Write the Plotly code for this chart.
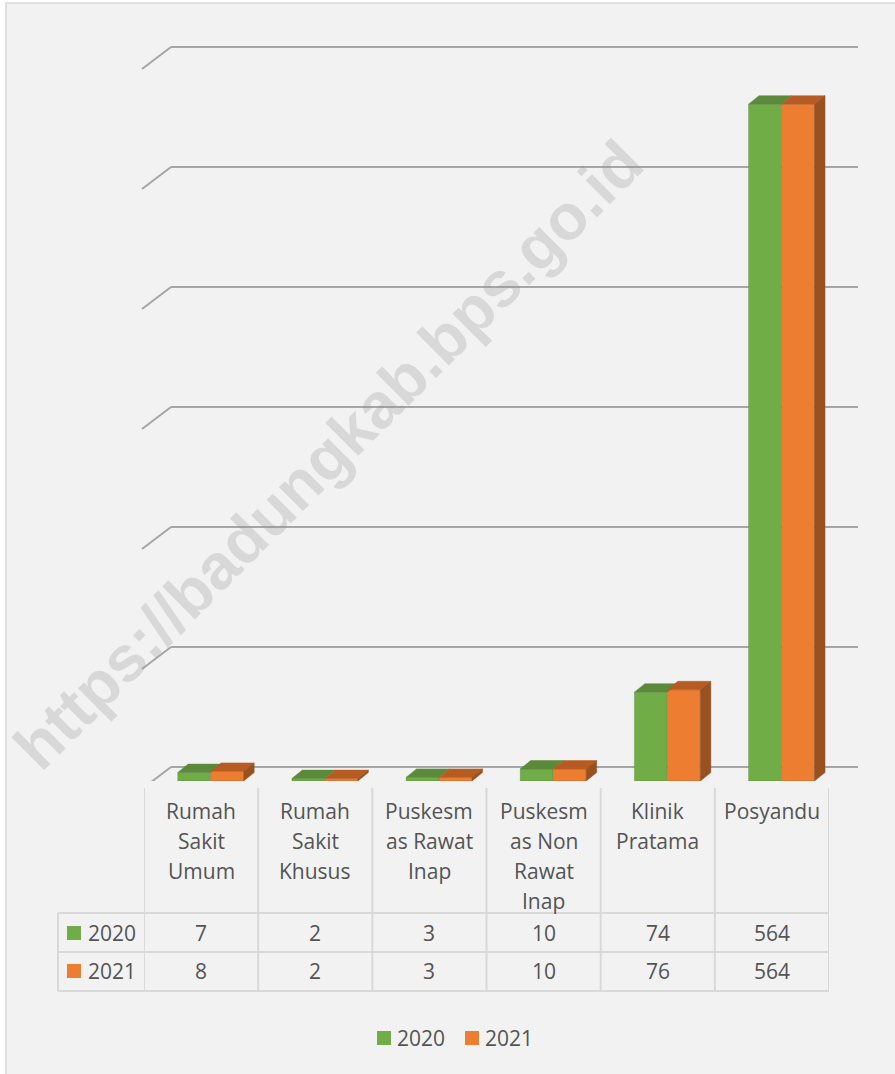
import plotly.graph_objects as go

# ---------------- data ----------------
categories = ["Rumah<br>Sakit<br>Umum", "Rumah<br>Sakit<br>Khusus", "Puskesm<br>as Rawat<br>Inap",
              "Puskesm<br>as Non<br>Rawat<br>Inap", "Klinik<br>Pratama", "Posyandu"]
years = ["2020", "2021"]
values_2020 = [7, 2, 3, 10, 74, 564]
values_2021 = [8, 2, 3, 10, 76, 564]
series_values = [values_2020, values_2021]
y_max = 600
y_step = 100
watermark = "https://badungkab.bps.go.id"

# ---------------- style ----------------
front_colors = ["#70ad47", "#ed7d31"]
top_colors = ["#5b8a3a", "#b65c22"]
side_colors = ["#4e7a31", "#9a5120"]
text_color = "#545454"
grid_color = "#a6a6a6"
table_line = "#d9d9d9"
FONT = "Open Sans"
FS = 21

W, H = 895, 1074


def px(x):
    return x / W


def py(y):
    return 1 - y / H


x_left_px, x_right_px = 144, 829
plot_bottom_px = 781
unit_px = 720 / y_max          # pixels per unit of value
y_view_max = y_max + 40        # room above the top gridline
plot_top_px = plot_bottom_px - y_view_max * unit_px
n = len(categories)
cat_px = (x_right_px - x_left_px) / n

bar_w = 33 / cat_px
offsets = [-0.205, -0.205 + bar_w]
dx = 10.5 / cat_px
dy = 8.5 / unit_px

fig = go.Figure()
xs = list(range(n))

# front faces
for s, yr in enumerate(years):
    fig.add_trace(go.Bar(
        x=xs, y=series_values[s], width=bar_w, offset=offsets[s],
        marker=dict(color=front_colors[s], line=dict(width=0.6, color="rgba(80,80,80,0.35)")),
        name=yr, hoverinfo="y+name", showlegend=False))

# top faces and side faces (3D look)
for s in range(len(years)):
    tx, ty = [], []
    for i, v in enumerate(series_values[s]):
        xl = i + offsets[s]
        xr = xl + bar_w
        tx += [xl, xl + dx, xr + dx, xr, xl, None]
        ty += [v, v + dy, v + dy, v, v, None]
    fig.add_trace(go.Scatter(x=tx, y=ty, mode="lines", fill="toself",
                             fillcolor=top_colors[s], line=dict(width=0.5, color=top_colors[s]),
                             showlegend=False, hoverinfo="skip", cliponaxis=False))
    if s == len(years) - 1:
        sx, sy = [], []
        for i, v in enumerate(series_values[s]):
            xr = i + offsets[s] + bar_w
            sx += [xr, xr + dx, xr + dx, xr, xr, None]
            sy += [0, dy, v + dy, v, 0, None]
        fig.add_trace(go.Scatter(x=sx, y=sy, mode="lines", fill="toself",
                                 fillcolor=side_colors[s], line=dict(width=0.5, color=side_colors[s]),
                                 showlegend=False, hoverinfo="skip", cliponaxis=False))

shapes = []
# background panel with border
shapes.append(dict(type="rect", xref="paper", yref="paper", x0=px(6), y0=py(3), x1=px(W + 5), y1=py(H + 5),
                   fillcolor="#f2f2f2", line=dict(color="#d9d9d9", width=1.5), layer="below"))

# back-wall gridlines with the left side-wall diagonal
back_shift = 14 / unit_px
diag_drop = 22 / unit_px
for v in range(0, y_max + 1, y_step):
    u = v + back_shift
    shapes.append(dict(type="line", xref="paper", yref="y", x0=px(171), x1=px(858), y0=u, y1=u,
                       line=dict(color=grid_color, width=2), layer="below"))
    shapes.append(dict(type="line", xref="paper", yref="y", x0=px(142), x1=px(171), y0=u - diag_drop, y1=u,
                       line=dict(color=grid_color, width=2), layer="below"))

# data table grid
for k in range(n + 1):
    shapes.append(dict(type="line", xref="x", yref="paper", x0=k - 0.5, x1=k - 0.5, y0=py(788), y1=py(991),
                       line=dict(color=table_line, width=2)))
shapes.append(dict(type="line", xref="paper", yref="paper", x0=px(58), x1=px(58), y0=py(913), y1=py(991),
                   line=dict(color=table_line, width=2)))
for yy in (913, 952, 991):
    shapes.append(dict(type="line", xref="paper", yref="paper", x0=px(58), x1=px(829), y0=py(yy), y1=py(yy),
                       line=dict(color=table_line, width=2)))

annotations = []
# header cells
line_gap = 30
for i, cat in enumerate(categories):
    for j, part in enumerate(cat.split("<br>")):
        annotations.append(dict(x=i, xref="x", y=py(811 + j * line_gap), yref="paper", text=part,
                                showarrow=False, xanchor="center", yanchor="middle",
                                font=dict(family=FONT, size=FS, color=text_color)))
# data rows
row_centers = [933, 971]
for s, yr in enumerate(years):
    yc = row_centers[s]
    shapes.append(dict(type="rect", xref="paper", yref="paper", x0=px(67), x1=px(81),
                       y0=py(yc - 7), y1=py(yc + 7), fillcolor=front_colors[s], line=dict(width=0)))
    annotations.append(dict(x=px(86), xref="paper", y=py(yc), yref="paper", text=yr, showarrow=False,
                            xanchor="left", yanchor="middle", font=dict(family=FONT, size=FS, color=text_color)))
    for i, v in enumerate(series_values[s]):
        annotations.append(dict(x=i, xref="x", y=py(yc), yref="paper", text=str(v), showarrow=False,
                                xanchor="center", yanchor="middle",
                                font=dict(family=FONT, size=FS, color=text_color)))

# legend (bottom)
legend_keys_x = [377, 465]
for s, yr in enumerate(years):
    kx = legend_keys_x[s]
    shapes.append(dict(type="rect", xref="paper", yref="paper", x0=px(kx), x1=px(kx + 14),
                       y0=py(1045), y1=py(1031), fillcolor=front_colors[s], line=dict(width=0)))
    annotations.append(dict(x=px(kx + 18), xref="paper", y=py(1038), yref="paper", text=yr, showarrow=False,
                            xanchor="left", yanchor="middle", font=dict(family=FONT, size=FS, color=text_color)))

# watermark
annotations.append(dict(x=px(328), y=py(455), xref="paper", yref="paper", text="<b>" + watermark + "</b>",
                        showarrow=False, textangle=-45, xanchor="center", yanchor="middle",
                        font=dict(family="Liberation Sans", size=64, color="rgba(150,150,150,0.28)")))

fig.update_layout(
    width=W, height=H,
    margin=dict(l=0, r=0, t=0, b=0),
    paper_bgcolor="white",
    plot_bgcolor="rgba(0,0,0,0)",
    barmode="overlay",
    showlegend=False,
    xaxis=dict(domain=[px(x_left_px), px(x_right_px)], range=[-0.5, n - 0.5], showgrid=False,
               zeroline=False, showticklabels=False, ticks="", showline=False, fixedrange=True),
    yaxis=dict(domain=[py(plot_bottom_px), py(plot_top_px)], range=[0, y_view_max], showgrid=False,
               zeroline=False, showticklabels=False, ticks="", showline=False, fixedrange=True),
    shapes=shapes,
    annotations=annotations,
)

fig.write_html("out.html", config={"displayModeBar": False},
               post_script="document.body.style.margin='0';document.body.style.overflow='hidden';")
